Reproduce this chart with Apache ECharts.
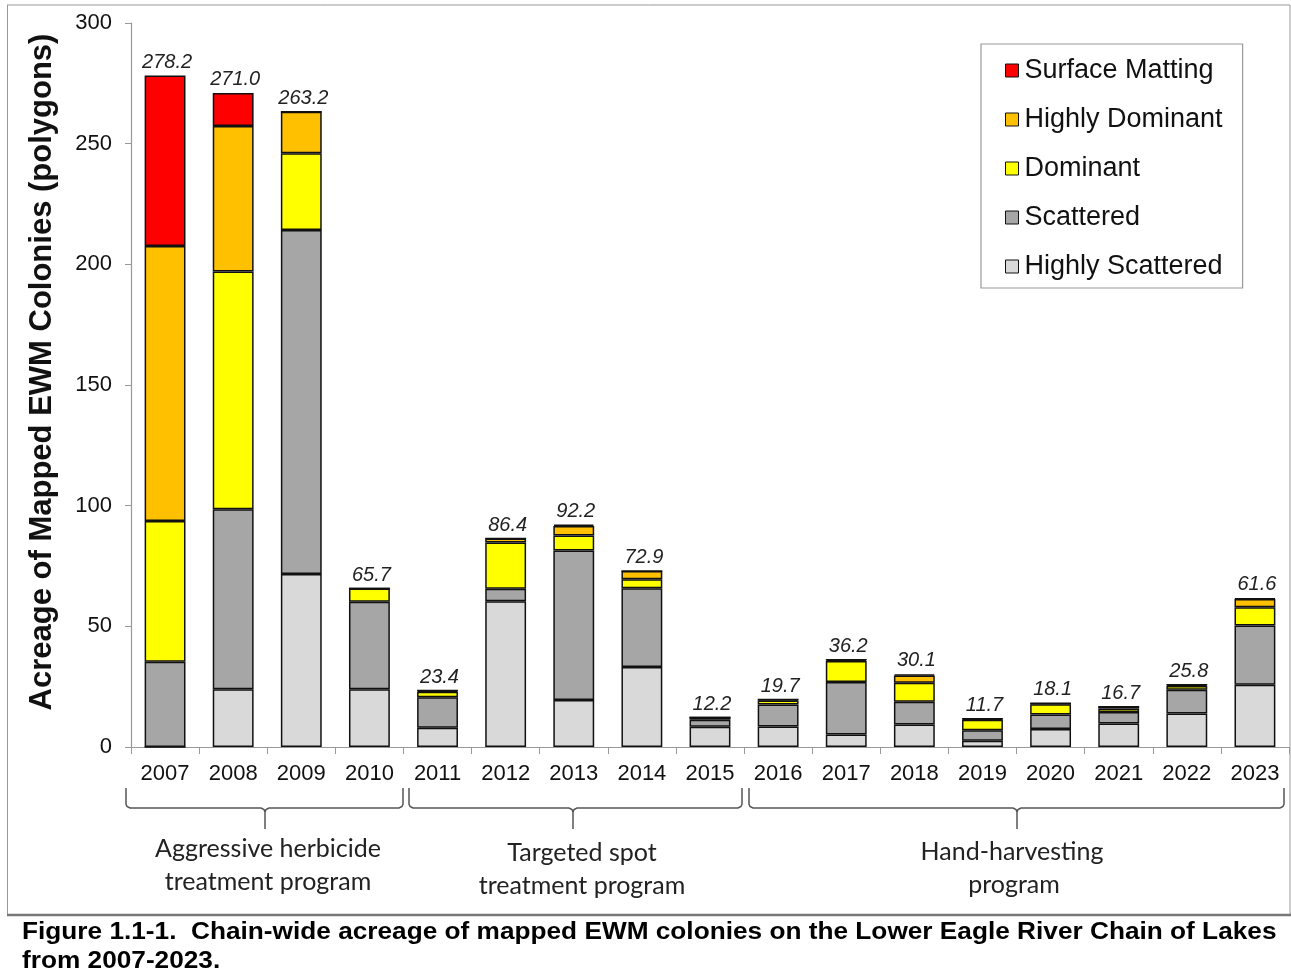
<!DOCTYPE html>
<html>
<head>
<meta charset="utf-8">
<script src="https://cdn.jsdelivr.net/npm/echarts@6/dist/echarts.min.js"></script>
<style>html,body{margin:0;padding:0;background:#fff;}#c{width:1291px;height:975px;}</style>
</head>
<body>
<div id="c"></div>
<script>
const years = ['2007','2008','2009','2010','2011','2012','2013','2014','2015','2016','2017','2018','2019','2020','2021','2022','2023'];
const highlyScattered = [0, 23.9, 71.7, 23.9, 8.0, 60.4, 19.5, 33.1, 8.4, 8.5, 5.2, 9.3, 2.6, 7.5, 9.7, 13.9, 25.8];
const scattered       = [35.3, 74.6, 142.5, 36.3, 12.6, 5.2, 61.9, 32.7, 2.9, 9.1, 21.7, 9.5, 4.3, 6.0, 4.8, 9.8, 24.5];
const dominant        = [58.3, 98.5, 31.8, 5.5, 2.3, 19.1, 6.2, 3.7, 0.9, 1.7, 8.7, 7.8, 4.4, 4.2, 1.5, 1.6, 7.6];
const highlyDominant  = [114.0, 60.3, 17.2, 0, 0.5, 1.7, 4.0, 3.4, 0, 0.4, 0.6, 3.0, 0.4, 0.4, 0.7, 0.5, 3.4];
const surfaceMatting  = [70.6, 13.7, 0, 0, 0, 0, 0.6, 0, 0, 0, 0, 0.5, 0, 0, 0, 0, 0.3];
const totals          = [278.2, 271.0, 263.2, 65.7, 23.4, 86.4, 92.2, 72.9, 12.2, 19.7, 36.2, 30.1, 11.7, 18.1, 16.7, 25.8, 61.6];
const yTicks = [0, 50, 100, 150, 200, 250, 300];

const chart = echarts.init(document.getElementById('c'), null, {renderer: 'canvas'});
const AR = 'Liberation Sans, Arial, sans-serif';
function barSeries(name, data, color) {
  return {
    name: name, type: 'bar', stack: 'total', data: data,
    barCategoryGap: '40%',
    itemStyle: {color: color, borderColor: '#111', borderWidth: 1.5},
    emphasis: {disabled: true},
    animation: false
  };
}
function brace(x1, x2, xm) {
  const t = 788, h = 808, b = 829;
  const st = {stroke: '#555', lineWidth: 1.5, fill: null};
  return [
    {type: 'polyline', shape: {points: [[x1, t], [x1, h - 4], [x1 + 1, h - 1.5], [x1 + 4, h], [xm - 4, h], [xm - 1, h + 1.5], [xm, h + 4], [xm, b]]}, style: st},
    {type: 'polyline', shape: {points: [[xm, h + 4], [xm + 1, h + 1.5], [xm + 4, h], [x2 - 4, h], [x2 - 1, h - 1.5], [x2, h - 4], [x2, t]]}, style: st}
  ];
}
function txt(x, y, text, opts) {
  return {type: 'text', x: x, y: y,
    style: Object.assign({text: text, fill: '#222', font: '25px Lato, sans-serif', align: 'center', verticalAlign: 'middle'}, opts || {})};
}
const graphics = [
  {type: 'line', shape: {x1: 7, y1: 5, x2: 1290, y2: 5}, style: {stroke: '#999', lineWidth: 1}},
  {type: 'line', shape: {x1: 7.5, y1: 5, x2: 7.5, y2: 915}, style: {stroke: '#999', lineWidth: 1}},
  {type: 'line', shape: {x1: 1290, y1: 5, x2: 1290, y2: 915}, style: {stroke: '#999', lineWidth: 1}},
  {type: 'line', shape: {x1: 7, y1: 915, x2: 1291, y2: 915}, style: {stroke: '#777', lineWidth: 2.5}},
  Object.assign(txt(42, 372, 'Acreage of Mapped EWM Colonies (polygons)',
    {font: 'bold 31px Liberation Sans, Arial, sans-serif', fill: '#111'}), {rotation: Math.PI / 2}),
  ...brace(126, 403, 265),
  ...brace(409, 742, 573),
  ...brace(749, 1284, 1017),
  txt(268, 849, 'Aggressive herbicide'),
  txt(268, 882, 'treatment program'),
  txt(582, 853, 'Targeted spot'),
  txt(582, 886, 'treatment program'),
  txt(1012, 852, 'Hand-harvesting'),
  txt(1014, 885, 'program'),
  {type: 'text', x: 22, y: 933, scaleX: 1.14, style: {text: 'Figure 1.1-1.  Chain-wide acreage of mapped EWM colonies on the Lower Eagle River Chain of Lakes',
    font: 'bold 23px Liberation Sans, Arial, sans-serif', fill: '#000', verticalAlign: 'middle', align: 'left'}},
  {type: 'text', x: 22, y: 962, scaleX: 1.14, style: {text: 'from 2007-2023.',
    font: 'bold 23px Liberation Sans, Arial, sans-serif', fill: '#000', verticalAlign: 'middle', align: 'left'}}
];
const option = {
  backgroundColor: '#fff',
  animation: false,
  grid: {left: 131, right: 2, top: 23, bottom: 228, containLabel: false},
  legend: {
    left: 981, top: 44, orient: 'vertical',
    data: ['Surface Matting', 'Highly Dominant', 'Dominant', 'Scattered', 'Highly Scattered'],
    backgroundColor: '#fff', borderColor: '#999', borderWidth: 1.2,
    padding: [13, 20, 8, 24], itemGap: 22, itemWidth: 13, itemHeight: 13,
    icon: 'rect', selectedMode: false,
    itemStyle: {borderColor: '#111', borderWidth: 1},
    textStyle: {fontFamily: AR, fontSize: 27, lineHeight: 27, color: '#111', padding: [0, 0, 0, 1]}
  },
  xAxis: {
    type: 'category', data: years,
    axisLine: {lineStyle: {color: '#999', width: 1.2}},
    axisTick: {show: true, length: 7, alignWithLabel: false, lineStyle: {color: '#999'}},
    axisLabel: {fontFamily: AR, fontSize: 22, color: '#111', margin: 16}
  },
  yAxis: {
    type: 'value', min: 0, max: 300, interval: 50,
    splitLine: {show: false},
    axisLine: {show: true, lineStyle: {color: '#999', width: 1.2}},
    axisTick: {show: true, length: 6, inside: false, lineStyle: {color: '#999'}},
    axisLabel: {fontFamily: AR, fontSize: 22, color: '#111', margin: 19,
      formatter: v => yTicks.includes(v) ? String(v) : ''}
  },
  series: [
    barSeries('Highly Scattered', highlyScattered, '#d9d9d9'),
    barSeries('Scattered', scattered, '#a6a6a6'),
    barSeries('Dominant', dominant, '#ffff00'),
    barSeries('Highly Dominant', highlyDominant, '#ffc000'),
    barSeries('Surface Matting', surfaceMatting, '#ff0000'),
    {
      name: 'Total', type: 'line', data: totals, symbol: 'circle', symbolSize: 1, showSymbol: true,
      itemStyle: {color: 'rgba(0,0,0,0)'},
      lineStyle: {opacity: 0, width: 0}, silent: true, z: 10,
      label: {show: true, position: 'top', distance: 3, fontFamily: AR, fontStyle: 'italic',
        fontSize: 20, color: '#222', offset: [2, 0], formatter: p => p.value.toFixed(1)}
    }
  ],
  graphic: graphics
};
chart.setOption(option);
</script>
</body>
</html>
